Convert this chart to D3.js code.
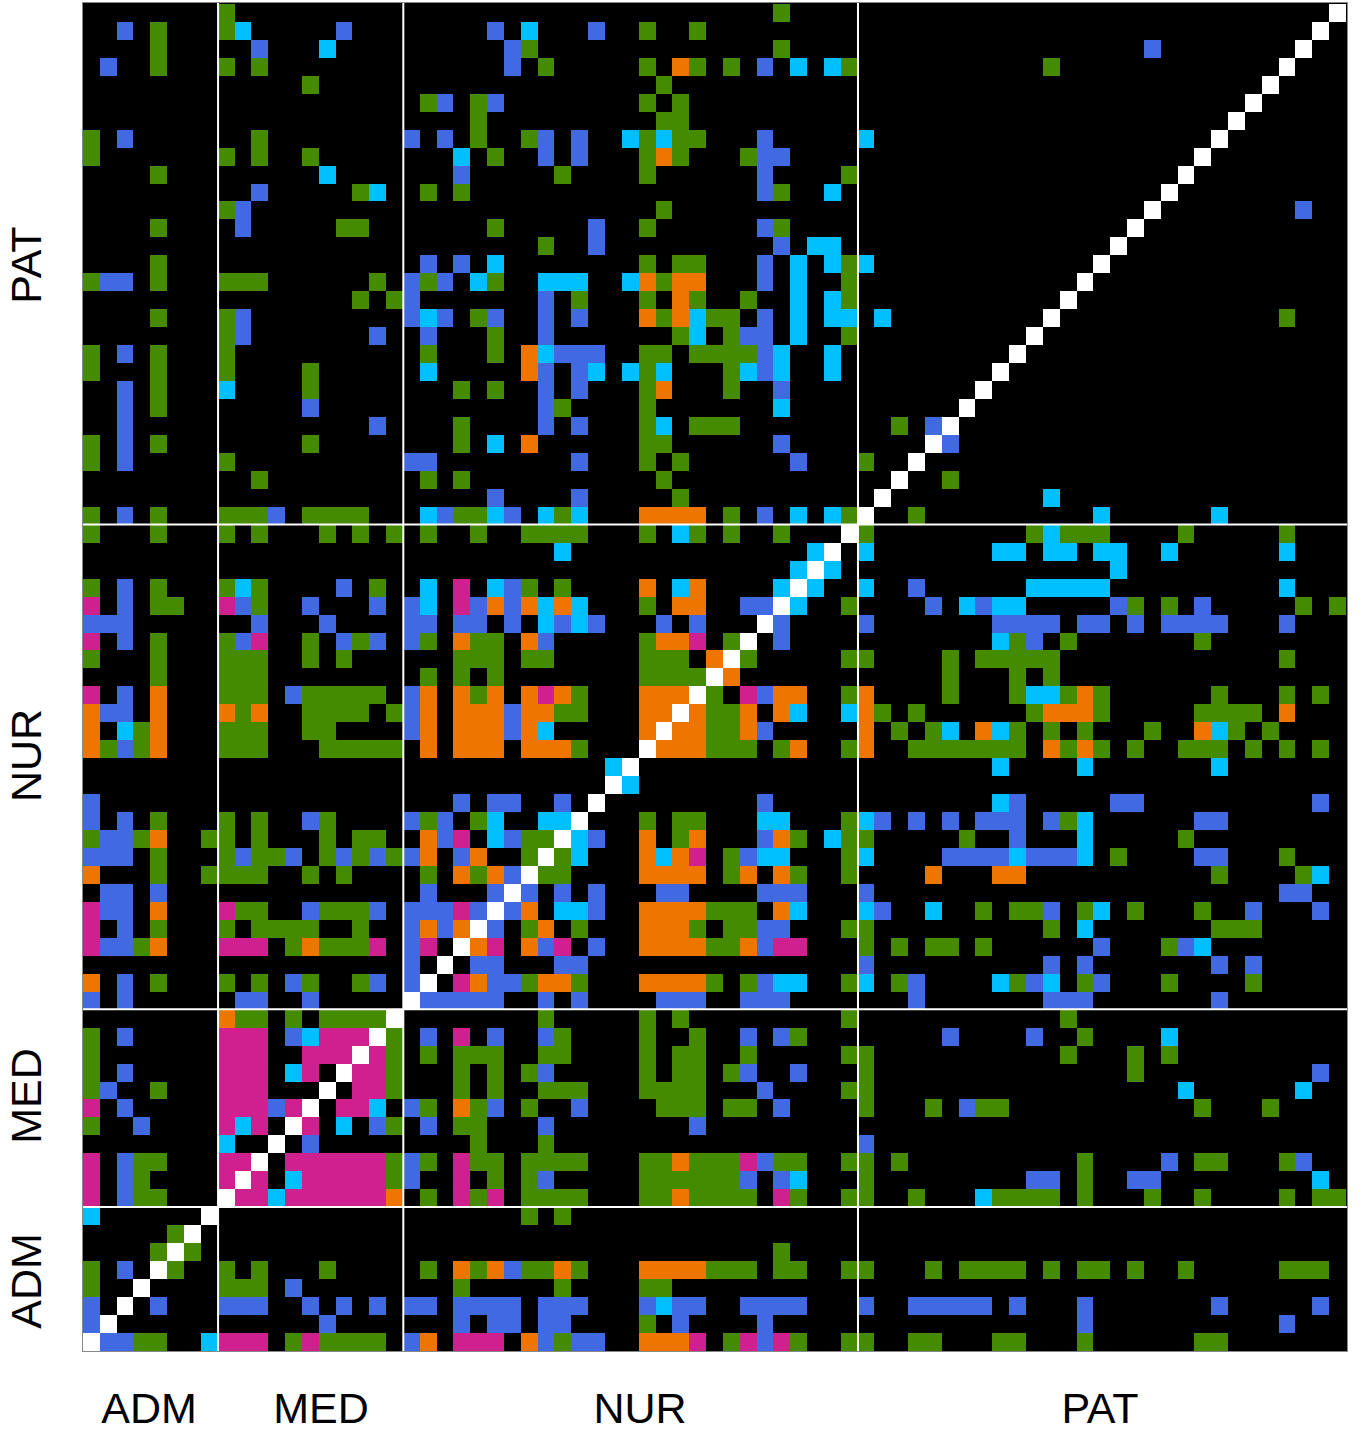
<!DOCTYPE html>
<html>
<head>
<meta charset="utf-8">
<script src="https://cdn.jsdelivr.net/npm/d3@7"></script>
<style>
  html, body { margin: 0; padding: 0; background: #fff; }
  svg { display: block; }
  text { font-family: "Liberation Sans", Arial, sans-serif; font-size: 43px; fill: #000; }
</style>
</head>
<body>
<div id="chart-area"></div>
<script>
// group sizes, columns left to right (rows run the other way)
const groups = ["ADM", "MED", "NUR", "PAT"]
const groupSizes = [8, 11, 27, 29]

// tie types
const tieCodes = ["g", "b", "c", "o", "m", "w"]
const tieColors = ["#458B00", "#4169E1", "#00BFFF", "#EE7600", "#D02090", "#FFFFFF"]

// one string per row, top to bottom, 5 rows a line. "1-2b" = cols 1 to 2 inside the group, type b
const admCells = [
  "", "2b 4g", "4g", "1b 4g", "",
  "", "", "0g 2b", "0g", "4g",
  "", "", "4g", "", "4g",
  "0g 1-2b 4g", "", "4g", "", "0g 2b 4g",
  "0g 4g", "2b 4g", "2b 4g", "2b", "0g 2b 4g",
  "0g 2b", "", "", "0g 2b 4g", "0g 4g",
  "", "", "0g 2b 4g", "0m 2b 4-5g", "0-2b",
  "0m 2b 4g", "0g 4g", "4g", "0m 2b 4o", "0o 1-2b 4o",
  "0o 2c 3g 4o", "0o 1g 2b 3g 4o", "", "", "0b",
  "0b 2b 4g", "0g 1-2b 3g 4o 7g", "0-2b 4g", "0o 4g 7g", "1-2b 4b",
  "0m 1-2b 4o", "0m 2b 4g", "0m 1-2b 3g 4o", "", "0o 2b 4g",
  "0b 2b", "", "0g 2b", "0g", "0g 2b",
  "0g 1b 4g", "0m 2b", "0g 3b", "", "0m 2b 3-4g",
  "0m 2b 3g", "0m 2b 3-4g", "0c 7w", "5g 6w", "4g 5w 6g",
  "0g 2b 4w 5g", "0g 3w", "0b 2w 4b", "0b 1w", "0w 1-2b 3-4g 7c"
]

const medCells = [
  "0g", "0g 1c 7b", "2b 6c", "0g 2g", "5g",
  "", "", "2g", "0g 2g 5g", "6c",
  "2b 8g 9c", "0g 1b", "1b 7-8g", "", "",
  "0-2g 9g", "8g 10g", "0g 1b", "0g 1b 9b", "0g",
  "0g 5g", "0c 5g", "5b", "9b", "5g",
  "0g", "2g", "", "0-2g 3b 5-8g", "0g 2g 6g 8g 10g",
  "", "", "0g 1c 2g 7b 9g", "0m 1b 2g 5b 9b", "2b 6b",
  "0g 1b 2m 5g 7b 8g 9b", "0-2g 5g 7g", "0-2g", "0-2g 4b 5-9g", "0o 1g 2o 5-8g 10g",
  "0-2g 5-6g", "0-2g 6-10g", "", "", "",
  "0g 2g 5b 6g", "0g 2g 6g 8-9g", "0g 1b 2-3g 4b 6g 7b 8g 9b 10g", "0-2g 5g 7g", "",
  "0m 1-2g 5b 6-8g 9b", "0g 2-5g 8g", "0-2m 4g 5o 6-8g 9m", "", "0g 2g 4b 5g 8g 9b",
  "1-2b 5b", "0o 1-2g 4g 6-9g 10w", "0-2m 4b 5c 6-8m 9w 10g", "0-2m 5-7m 8w 9m 10g", "0-2m 4c 5m 7w 8-9m 10g",
  "0-2m 6w 8-9m 10g", "0-2m 3b 4m 5w 7-8m 9c", "0m 1c 2m 4w 5m 7c 9b 10g", "0c 3w 5b", "0-1m 2w 4-9m 10g",
  "0m 1w 2m 4c 5-9m 10g", "0w 1-2m 3c 4-9m 10o", "", "", "",
  "0g 2g 6g", "0-2g 4b", "0-2b 5b 7b 9b", "6b", "0-2m 4g 5m 6-9g"
]

const nurCells = [
  "22g", "5b 7c 11b 14g 17g", "6b 7g 22g", "6b 8g 14g 16o 17g 19g 21b 23c 25c 26g", "15g",
  "1g 2b 4g 5b 14g 16g", "4g 15-16g", "0b 2b 4g 7g 8b 10b 13c 14g 15c 16-17g 21b", "3c 5g 8b 10b 14g 15o 16g 20g 21-22b", "3b 9g 14g 21b 26g",
  "1g 3g 21b 22g 25c", "15g", "5g 11b 14g 21b 22g", "8g 11b 22b 24-25c", "1b 3b 5c 14g 16-17g 21b 23c 25c 26g",
  "0b 1g 2b 4c 5g 8-10c 13c 14o 15g 16-17o 21b 23c 26g", "0b 8b 10g 14g 16o 17g 20g 23c 25c 26g", "0b 1c 2b 4g 5b 8b 10b 14o 15g 16o 17c 18-19g 21b 23c 25-26c", "1b 5g 8b 16g 17c 19g 20-21b 23c 26g", "1g 5g 7o 8c 9-11b 14-15g 17-20g 21b 22c 25c",
  "1c 7o 8b 10b 11c 13c 14g 15c 19g 20c 21b 22c 25c", "3g 5g 8b 10b 14g 15o 19g 22b", "8b 9g 14g 22c", "3g 8b 10b 14g 15c 17-19g", "3g 5c 7o 14-15g 22b",
  "0-1b 10b 14g 16g 23b", "1g 3g 15g", "5b 10b 16g", "1c 2b 3-4g 5c 6b 8c 9g 10c 14-17o 19g 21b 23c 25c 26g", "1g 4g 7-10g 14g 16c 17g 19g 22g 26w",
  "9c 24c 25w", "23c 24w 25c", "1c 3m 5c 6b 7g 9g 14o 16c 17o 22c 23w 24c", "0b 1c 3m 4b 5o 6b 7o 8c 9o 10c 14g 16-17o 20-21b 22w 23c 26g", "0-1b 3-4b 6b 8c 9b 10c 11b 15b 17b 21w 22b",
  "0b 1g 3o 4-5g 7o 8b 14g 15-16o 17m 19g 20w 22b", "3-5g 7-8g 14-16g 18o 19w 20g 26g", "1g 3g 5g 14-17g 18w 19o", "0b 1o 3o 4g 5o 7o 8m 9o 10g 14-16o 17w 18g 20m 21b 22-23o 26g", "0b 1o 3-5o 6b 7-8o 9-10g 14-15o 16w 17o 18-19g 20o 22o 23c 26c",
  "0b 1o 3-5o 6b 7o 8c 14o 15w 16-17o 18-19g 20o 21b", "1o 3-5o 7-9o 10g 14w 15-17o 18-20g 22g 23o 26g", "12c 13w", "12w 13c", "3b 5-6b 9b 11w 21b",
  "0b 1g 2b 4g 5c 8-9c 10w 14g 16-17g 21-22c 26g", "1o 2b 3m 5c 6b 7-8g 9w 10c 11b 14o 16g 17o 21b 22o 23g 25c 26g", "0b 1o 3b 4o 7g 8w 9g 10c 14o 15c 16o 17m 19g 20b 21-22c 26g", "1g 3o 4g 5o 6b 7w 8-9g 14-17o 19g 20o 22o 23g 26g", "1b 5b 6w 7b 9b 11b 15-16b 21-23b",
  "0-2b 3m 4b 5w 6b 7o 9-10c 11b 14-17o 18-20g 22o 23c", "0b 1o 2b 3o 4w 5b 7g 8o 10g 14-16o 17g 19-20g 21-22b 26g", "0b 1m 3w 4o 5m 7o 8b 9m 11b 14-17o 18-19g 20o 21b 22-23m", "0b 2w 4-5b 9-10b", "0b 1w 3m 4o 5-6b 7g 8-9o 10g 14-17o 18g 20g 21b 22-23c 26g",
  "0w 1-5b 8b 10b 15-17b 20-22b", "8g 14g 16g 26g", "1b 3m 5b 8b 9g 14g 17g 20b 22b 23g", "1g 3-5g 8-9g 14g 16-17g 20g 26g", "3g 5g 7g 8b 14g 16-17g 19g 20b 23b",
  "3g 5g 8-10g 14-17g 21b 26g", "0b 1g 3o 4g 5b 7g 10b 15-17g 19-20g 22b", "1b 3-4g 8b 17b", "4g 8g", "0b 1g 3m 4-5g 7-10g 14-15g 16o 17-19g 20m 21b 22-23g 26g",
  "0b 3m 5g 7g 8b 14-19g 20b 22b 23c", "1g 3m 4g 5m 7-10g 14-15g 16o 17-20g 22m 23g 26g", "7g 9g", "", "22g",
  "1g 3o 4g 5o 6b 7-8g 9o 10g 14-17o 18-20g 22-23g 26g", "3g 9g 14-15g", "0-1b 3-6b 8-10b 14b 15c 16-17b 20-23b", "3b 5-6b 8-9b 14g 16b 21b", "0b 1o 3-5m 7o 8b 9g 10-11b 14-16o 17m 19g 20m 21b 22m 23g 26g"
]

const patCells = [
  "28w", "27w", "17b 26w", "11g 25w", "24w",
  "23w", "22w", "0c 21w", "20w", "19w",
  "18w", "17w 26b", "16w", "15w", "0c 14w",
  "13w", "12w", "1c 11w 25g", "10w", "9w",
  "8w", "7w", "6w", "2g 4b 5w", "4w 5b",
  "0g 3w", "2w 5g", "1w 11c", "0w 3g 14c 21c", "0g 10g 11c 12-14g 19g 25g",
  "0c 8-9c 11-12c 14-15c 18c 25c", "15c", "0c 3b 10-14c 25c", "4b 6c 7b 8-9c 15b 16g 18g 20b 26g 28g", "0b 8-11b 13-14b 16b 18-21b 25b",
  "8c 9g 10b 12g 20g", "0g 5g 7-11g 25g", "5g 9g 11g", "0o 5g 9g 10-11c 12g 13o 14g 21g 25g 27g", "0o 1g 3g 10g 11-13o 14g 20-23g 25o",
  "0o 2g 4g 5c 7o 8c 9g 11g 13g 17g 20o 21c 22g 24g", "0o 3-9g 11o 12g 13o 14g 16g 19-21g 23g 25g 27g", "8c 13c 21c", "", "8c 9b 15-16b 27b",
  "0c 1b 3b 5b 7-9b 11b 12g 13c 20-21b", "0g 6g 9b 13c 19g", "0c 5-8b 9c 10-12b 13c 15g 20-21b 25g", "4o 8-9o 21g 26g 27c", "0b 25-26b",
  "0c 1b 4c 7g 9-10g 11b 13g 14c 16g 20g 23b 27b", "0g 11g 13c 21-23g", "0g 2g 4-5g 7g 14b 18g 19b 20c", "0b 11b 13b 21b 23b", "0c 2g 3b 8c 9g 10b 11c 13g 14b 18g 23g",
  "3b 11-13b 21b", "12g", "5b 10b 13g 18c", "0g 12g 16g 18g", "0g 16g 27b",
  "0g 19c 26c", "0g 4g 6b 7-8g 20g 24g", "", "0b", "0g 2g 13g 18b 20-21g 25g 26b",
  "0g 10-11b 13g 16-17b 27c", "0g 3g 7c 8-11g 13g 17g 20g 25g 27-28g", "", "", "",
  "0g 4g 6-9g 11g 13-14g 16g 19g 25-27g", "", "0b 3-7b 9b 13b 21b 27b", "13b 25b", "0g 3-4g 8-9g 13g 20-21g"
]

const groupCells = [admCells, medCells, nurCells, patCells]

// label spots
const bottomLabelX = [149, 321, 640, 1100]
const leftLabelY = [1281, 1096, 755.5, 265]

const WIDTH = 1369
const HEIGHT = 1433
const PLOT = { LEFT: 82.95, RIGHT: 1345.95, TOP: 3.9, BOTTOM: 1350.9 }

const N = d3.sum(groupSizes)
const offsets = d3.cumsum([0].concat(groupSizes)) // start col of each group

const x = d3.scaleBand().domain(d3.range(N)).range([PLOT.LEFT, PLOT.RIGHT])
const y = d3.scaleBand().domain(d3.range(N)).range([PLOT.TOP, PLOT.BOTTOM])
const color = d3.scaleOrdinal().domain(tieCodes).range(tieColors)

// unpack the strings into one record per cell
const cells = []
groupCells.forEach((rows, g) => {
  rows.forEach((row, r) => {
    row.split(" ").filter(t => t).forEach(token => {
      const m = token.match(/^(\d+)(?:-(\d+))?([a-z])$/)
      const from = +m[1]
      const to = m[2] ? +m[2] : from
      d3.range(from, to + 1).forEach(c => {
        cells.push({ row: r, col: offsets[g] + c, type: m[3] })
      })
    })
  })
})

const svg = d3.select("#chart-area")
  .append("svg")
  .attr("width", WIDTH)
  .attr("height", HEIGHT)
  .attr("viewBox", [0, 0, WIDTH, HEIGHT])

svg.append("rect")
  .attr("x", 0).attr("y", 0)
  .attr("width", WIDTH).attr("height", HEIGHT)
  .attr("fill", "#fff")

svg.append("rect")
  .attr("x", 83).attr("y", 3)
  .attr("width", 1264).attr("height", 1348)
  .attr("fill", "#000")

svg.append("g")
  .attr("shape-rendering", "crispEdges")
  .selectAll("rect")
  .data(cells)
  .enter()
  .append("rect")
  .attr("x", d => x(d.col))
  .attr("y", d => y(d.row))
  .attr("width", x.bandwidth())
  .attr("height", y.bandwidth())
  .attr("fill", d => color(d.type))

// frame goes over the cells
svg.append("rect")
  .attr("x", 82.5).attr("y", 2.5)
  .attr("width", 1265).attr("height", 1349)
  .attr("fill", "none")
  .attr("stroke", "#888")
  .attr("stroke-width", 1)

// white dividers between the groups
const splitCols = offsets.slice(1, -1)
const splitRows = offsets.slice(1, -1).map(o => N - o)

svg.append("g")
  .selectAll("line")
  .data(splitCols)
  .enter()
  .append("line")
  .attr("x1", d => x(d) + 0.4).attr("x2", d => x(d) + 0.4)
  .attr("y1", 3).attr("y2", PLOT.BOTTOM)
  .attr("stroke", "#fff")
  .attr("stroke-width", 2)

svg.append("g")
  .selectAll("line")
  .data(splitRows)
  .enter()
  .append("line")
  .attr("x1", 83).attr("x2", 1347)
  .attr("y1", d => y(d) - 0.3).attr("y2", d => y(d) - 0.3)
  .attr("stroke", "#fff")
  .attr("stroke-width", 2)

svg.selectAll("text.bottom")
  .data(groups)
  .enter()
  .append("text")
  .attr("class", "bottom")
  .attr("x", (d, i) => bottomLabelX[i])
  .attr("y", 1423)
  .attr("text-anchor", "middle")
  .text(d => d)

svg.selectAll("text.left")
  .data(groups)
  .enter()
  .append("text")
  .attr("class", "left")
  .attr("text-anchor", "middle")
  .attr("transform", (d, i) => `translate(41, ${leftLabelY[i]}) rotate(-90)`)
  .text(d => d)
</script>
</body>
</html>
